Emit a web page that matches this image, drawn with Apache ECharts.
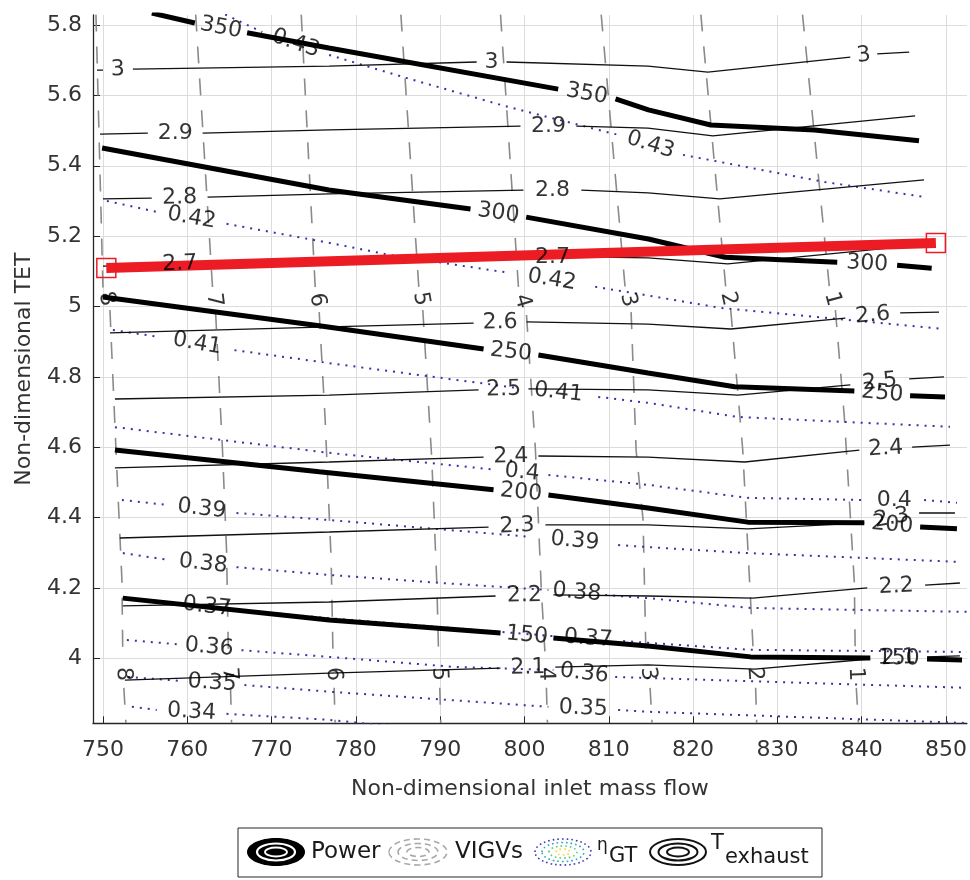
<!DOCTYPE html>
<html>
<head>
<meta charset="utf-8">
<script src="https://cdn.jsdelivr.net/npm/echarts@6/dist/echarts.min.js"></script>
<style>
  html, body { margin: 0; padding: 0; background: #ffffff; }
  #chart { width: 970px; height: 880px; }
</style>
</head>
<body>
<div id="chart"></div>
<script>
// Axis ticks
const xTicks = [750, 760, 770, 780, 790, 800, 810, 820, 830, 840, 850];
const yTicks = [4, 4.2, 4.4, 4.6, 4.8, 5, 5.2, 5.4, 5.6, 5.8];

// Power contours (null = gap where the level label sits)
const powerLevels = [350, 300, 250, 200, 150];
const powerLines = [
  [[755.8,5.834],[760.9,5.806],null,[767.1,5.778],[776.8,5.735],[804.0,5.618],null,[810.8,5.590],[814.7,5.559],[822.1,5.516],[834.4,5.502],[846.8,5.471]],
  [[749.9,5.4505],[776.8,5.331],[793.6,5.277],null,[800.2,5.254],[814.7,5.192],[823.8,5.140],[837.1,5.126],null,[844.2,5.117],[848.3,5.109]],
  [[750.0,5.027],[775.65,4.945],[795.15,4.879],null,[801.65,4.862],[814.66,4.811],[824.94,4.772],[839.13,4.760],null,[845.74,4.746],[849.88,4.743]],
  [[751.42,4.592],[775.65,4.530],[796.33,4.479],null,[802.84,4.464],[814.66,4.427],[826.48,4.387],[840.31,4.385],null,[846.93,4.373],[851.3,4.368]],
  [[752.36,4.171],[776.83,4.109],[797.16,4.072],null,[803.43,4.058],[814.66,4.035],[826.83,4.004],[841.02,4.001],null,[847.75,3.998],[851.9,3.995]]
];

// Exhaust temperature contours
const texhLevels = [3, 2.9, 2.8, 2.7, 2.6, 2.5, 2.4, 2.3, 2.2, 2.1];
const texhLines = [
  [[749.29,5.672],[750.0,5.672],null,[753.55,5.675],[776.83,5.683],[794.33,5.695],null,[797.87,5.695],[814.66,5.683],[821.75,5.666],[838.65,5.709],null,[841.84,5.718],[845.63,5.723]],
  [[749.65,5.490],[755.32,5.493],null,[761.82,5.493],[776.83,5.502],[799.53,5.513],null,[806.15,5.513],[814.66,5.507],[822.34,5.485],[846.34,5.542]],
  [[750.0,5.306],[755.79,5.308],null,[762.41,5.311],[776.83,5.320],[799.88,5.331],null,[806.74,5.331],[814.66,5.323],[823.17,5.306],[847.40,5.360]],
  [[750.0,5.115],[755.79,5.118],null,[762.41,5.124],[776.83,5.130],[799.88,5.141],null,[806.74,5.141],[814.66,5.138],[824.11,5.121],[848.35,5.178]],
  [[750.83,4.925],[776.83,4.942],[793.97,4.953],null,[800.24,4.956],[814.66,4.950],[824.47,4.936],[838.06,4.967],null,[844.56,4.982],[849.17,4.984]],
  [[751.42,4.737],[776.83,4.748],[794.56,4.763],null,[800.47,4.766],[814.66,4.763],[825.30,4.748],[838.65,4.777],null,[845.63,4.794],[849.76,4.800]],
  [[751.42,4.541],[776.83,4.558],[795.15,4.572],null,[801.65,4.575],[814.66,4.572],[826.12,4.558],[839.72,4.592],null,[845.98,4.600],[850.47,4.606]],
  [[752.0,4.342],[776.83,4.359],[795.74,4.373],null,[802.48,4.379],[814.66,4.379],[826.48,4.368],[840.31,4.385],null,[846.81,4.413],[851.06,4.413]],
  [[752.36,4.149],[776.83,4.160],[796.57,4.177],null,[803.43,4.180],[814.66,4.177],[827.07,4.171],[840.66,4.200],null,[847.52,4.208],[851.65,4.214]],
  [[752.6,3.938],[776.83,3.958],[797.16,3.972],null,[803.66,3.975],[814.66,3.981],[827.3,3.969],[841.0,3.998],null,[847.75,4.004],[851.65,4.007]]
];

// Gas turbine efficiency contours
const etaLevels = [0.43, 0.42, 0.41, 0.4, 0.39, 0.38, 0.37, 0.36, 0.35, 0.34];
const etaLines = [
  [[764.5,5.83],[768.9,5.780],null,[776.83,5.715],[785.93,5.650],[798.1,5.567],[811.1,5.488],null,[818.8,5.431],[835.6,5.354],[847.5,5.311]],
  [[750.47,5.300],[756.38,5.269],null,[764.66,5.235],[776.83,5.181],[783.92,5.147],[798.1,5.096],null,[808.39,5.056],[813.47,5.036],[823.29,4.996],[849.76,4.936]],
  [[751.18,4.933],[756.74,4.913],null,[765.6,4.876],[776.83,4.839],[799.29,4.768],null,[808.75,4.743],[814.66,4.726],[825.3,4.686],[850.47,4.658]],
  [[751.42,4.657],[776.83,4.584],[796.57,4.536],null,[802.84,4.521],[814.66,4.493],[826.48,4.456],[840.31,4.450],null,[847.4,4.450],[851.3,4.442]],
  [[752.25,4.450],[757.57,4.436],null,[765.84,4.413],[776.83,4.393],[800.83,4.345],null,[811.11,4.322],[814.66,4.316],[826.48,4.299],[851.65,4.274]],
  [[752.36,4.299],[757.92,4.279],null,[765.84,4.259],[776.83,4.237],[790.19,4.214],[802.84,4.194],null,[809.57,4.180],[814.66,4.171],[826.83,4.143],[852.48,4.132]],
  [[752.36,4.174],[758.5,4.157],null,[766.19,4.137],[776.83,4.114],[797.16,4.075],[803.43,4.063],null,[811.70,4.049],[814.66,4.044],[826.83,4.024],[852.48,4.018]],
  [[752.84,4.052],[758.75,4.040],null,[766.43,4.023],[776.83,4.004],[791.37,3.976],[803.43,3.967],null,[810.76,3.947],[814.66,3.944],[852.48,3.916]],
  [[752.96,3.947],[759.1,3.936],null,[766.78,3.924],[776.83,3.905],[802.84,3.862],null,[811.11,3.853],[814.66,3.848],[852.48,3.816]],
  [[753.43,3.862],[756.38,3.853],null,[764.66,3.842],[776.83,3.825],[785.1,3.805]]
];

// Variable inlet guide vane positions
const vigvLevels = [8, 7, 6, 5, 4, 3, 2, 1];
const vigvLines = [
  [[749.17,5.83],[750.0,5.053],null,[750.83,4.99],[751.65,4.535],[752.25,4.223],[752.36,3.995],null,[752.48,3.916],[752.72,3.816]],
  [[761.0,5.83],[763.0,5.053],null,[763.36,4.984],[764.18,4.592],[764.66,4.308],[764.89,3.995],null,[765.13,3.916],[765.25,3.817]],
  [[773.52,5.83],[775.18,5.053],null,[775.65,4.984],[776.36,4.677],[777.07,4.279],[777.3,3.995],null,[777.42,3.916],[777.54,3.817]],
  [[785.34,5.83],[787.47,5.053],null,[787.94,4.99],[789.0,4.569],[789.6,4.215],[789.83,3.995],null,[789.95,3.916],[790.07,3.817]],
  [[797.16,5.83],[799.29,5.053],null,[800.24,4.976],[801.3,4.592],[802.0,4.194],[802.48,3.995],null,[802.6,3.916],[802.72,3.817]],
  [[809.1,5.83],[811.94,5.053],null,[812.65,4.984],[813.24,4.592],[814.07,4.393],[814.42,3.995],null,[814.9,3.916],[815.13,3.817]],
  [[820.92,5.83],[823.88,5.053],null,[824.47,4.99],[825.89,4.592],[826.71,4.215],[827.19,3.995],null,[827.42,3.916],[827.54,3.817]],
  [[832.98,5.83],[836.17,5.053],null,[836.88,4.99],[837.94,4.686],[839.13,4.215],[839.24,3.995],null,[839.36,3.916],[839.6,3.817]]
];

// Operating line
const operatingLine = [[750.4, 5.1094], [848.8, 5.1805]];

const FONT = 'DejaVu Sans';
const chart = echarts.init(document.getElementById('chart'), null, { renderer: 'canvas' });

function lineData(pts) {
  return pts.map(p => (p ? p : ['-', '-']));
}

function lineSeries(name, pts, style, z) {
  return {
    name: name,
    type: 'line',
    data: lineData(pts),
    showSymbol: false,
    symbol: 'none',
    connectNulls: false,
    silent: true,
    z: z,
    lineStyle: style
  };
}

// Gaps in a contour: where its level label is written
function gaps(pts) {
  const out = [];
  for (let i = 1; i < pts.length - 1; i++) {
    if (pts[i] === null && pts[i - 1] && pts[i + 1]) {
      out.push({ a: pts[i - 1], b: pts[i + 1] });
    }
  }
  return out;
}

const series = [];
vigvLines.forEach((pts, i) => series.push(lineSeries('VIGV ' + vigvLevels[i], pts,
  { color: '#8a8a8a', width: 1.6, type: [17, 15] }, 2)));
etaLines.forEach((pts, i) => series.push(lineSeries('eta ' + etaLevels[i], pts,
  { color: '#3434aa', width: 2, type: [2, 6] }, 3)));
texhLines.forEach((pts, i) => series.push(lineSeries('Texh ' + texhLevels[i], pts,
  { color: '#111111', width: 1.3 }, 4)));
powerLines.forEach((pts, i) => series.push(lineSeries('Power ' + powerLevels[i], pts,
  { color: '#000000', width: 5 }, 5)));

series.push({
  name: 'Operating line',
  type: 'line',
  data: operatingLine,
  symbol: 'rect',
  symbolSize: 19,
  showSymbol: true,
  silent: true,
  z: 6,
  lineStyle: { color: '#ec1c24', width: 10 },
  itemStyle: { color: 'rgba(0,0,0,0)', borderColor: '#ec1c24', borderWidth: 1.5 }
});

const labelSeriesIndex = series.length;
series.push({
  name: 'Contour labels',
  type: 'scatter',
  data: [],
  symbolSize: 1,
  silent: true,
  z: 10,
  itemStyle: { color: 'rgba(0,0,0,0)' },
  label: {
    show: true,
    position: 'inside',
    color: '#000000',
    fontFamily: FONT,
    fontSize: 22,
    formatter: p => p.data.text
  }
});

const axisText = { color: '#333333', fontFamily: FONT, fontSize: 22 };

function legendGraphics() {
  const cy = 852;
  const els = [];
  const txt = (text, x, y, size) => ({ type: 'text', z: 101,
    style: { text: text, x: x, y: y, verticalAlign: 'middle', fontFamily: FONT, fontSize: size, fill: '#1a1a1a' } });
  els.push({ type: 'rect', shape: { x: 238, y: 828, width: 584, height: 49 },
    style: { fill: '#ffffff', stroke: '#262626', lineWidth: 1 }, z: 100 });
  // Power swatch: filled black contour rings
  els.push({ type: 'ellipse', shape: { cx: 276, cy: cy, rx: 29, ry: 14 }, style: { fill: '#000' }, z: 101 });
  els.push({ type: 'ellipse', shape: { cx: 276, cy: cy, rx: 19, ry: 8.5 }, style: { fill: 'none', stroke: '#fff', lineWidth: 2.2 }, z: 102 });
  els.push({ type: 'ellipse', shape: { cx: 276, cy: cy, rx: 11, ry: 4.5 }, style: { fill: 'none', stroke: '#fff', lineWidth: 1.8 }, z: 102 });
  els.push({ type: 'line', shape: { x1: 271, y1: cy, x2: 281, y2: cy }, style: { stroke: '#000', lineWidth: 3 }, z: 103 });
  els.push(txt('Power', 311, cy, 23));
  // VIGV swatch: grey dashed rings
  [[29, 13], [20, 8.5], [11, 4.5]].forEach(r => els.push({ type: 'ellipse',
    shape: { cx: 418, cy: cy, rx: r[0], ry: r[1] },
    style: { fill: 'none', stroke: '#a8a8a8', lineWidth: 1.6, lineDash: [6, 4] }, z: 101 }));
  els.push(txt('VIGVs', 455, cy, 23));
  // Efficiency swatch: dotted coloured rings
  [[28, 13, '#3a3ab8'], [21, 9.5, '#2aa6c0'], [14, 6, '#5cc87a'], [7, 3, '#f2dc28']].forEach(r => els.push({ type: 'ellipse',
    shape: { cx: 563, cy: cy, rx: r[0], ry: r[1] },
    style: { fill: 'none', stroke: r[2], lineWidth: 1.6, lineDash: [1.6, 3] }, z: 101 }));
  els.push(txt('η', 597, cy - 6, 17));
  els.push(txt('GT', 609, cy + 5, 21));
  // Exhaust temperature swatch: black rings
  [[28, 13], [19.5, 8.5], [11, 4.5]].forEach(r => els.push({ type: 'ellipse',
    shape: { cx: 678, cy: cy, rx: r[0], ry: r[1] },
    style: { fill: 'none', stroke: '#111', lineWidth: 2 }, z: 101 }));
  els.push(txt('T', 711, cy - 8, 21));
  els.push(txt('exhaust', 725, cy + 6, 21));
  return els;
}

const option = {
  animation: false,
  backgroundColor: '#ffffff',
  grid: { left: 93, top: 15, width: 877, height: 708.3, containLabel: false },
  xAxis: {
    type: 'value',
    min: 748.82,
    max: 852.48,
    name: 'Non-dimensional inlet mass flow',
    nameLocation: 'middle',
    nameGap: 55,
    nameTextStyle: axisText,
    axisLine: { show: true, onZero: false, lineStyle: { color: '#262626', width: 1.3 } },
    axisTick: { show: true, inside: true, length: 7, customValues: xTicks, lineStyle: { color: '#262626' } },
    axisLabel: { customValues: xTicks, margin: 16, ...axisText },
    splitLine: { show: true, lineStyle: { color: '#dcdcdc', width: 1 } }
  },
  yAxis: {
    type: 'value',
    min: 3.8152,
    max: 5.8286,
    name: 'Non-dimensional TET',
    nameLocation: 'middle',
    nameGap: 58,
    nameTextStyle: axisText,
    axisLine: { show: true, onZero: false, lineStyle: { color: '#262626', width: 1.3 } },
    axisTick: { show: true, inside: true, length: 7, customValues: yTicks, lineStyle: { color: '#262626' } },
    axisLabel: { customValues: yTicks, margin: 11, ...axisText },
    splitLine: { show: true, lineStyle: { color: '#dcdcdc', width: 1 } }
  },
  series: series,
  graphic: { elements: legendGraphics() }
};

chart.setOption(option);

// Place each level label in its gap, turned along the contour
function angleBetween(a, b) {
  const pa = chart.convertToPixel({ gridIndex: 0 }, a);
  const pb = chart.convertToPixel({ gridIndex: 0 }, b);
  let ang = -Math.atan2(pb[1] - pa[1], pb[0] - pa[0]) * 180 / Math.PI;
  if (ang > 90) ang -= 180;
  if (ang < -90) ang += 180;
  return ang;
}

const labels = [];
function addLabels(lines, levels) {
  lines.forEach((pts, i) => {
    gaps(pts).forEach(g => {
      labels.push({
        value: [(g.a[0] + g.b[0]) / 2, (g.a[1] + g.b[1]) / 2],
        text: String(levels[i]),
        label: { rotate: angleBetween(g.a, g.b) }
      });
    });
  });
}
addLabels(vigvLines, vigvLevels);
addLabels(etaLines, etaLevels);
addLabels(texhLines, texhLevels);
addLabels(powerLines, powerLevels);

const upd = series.map(() => ({}));
upd[labelSeriesIndex] = { data: labels };
chart.setOption({ series: upd });
</script>
</body>
</html>
